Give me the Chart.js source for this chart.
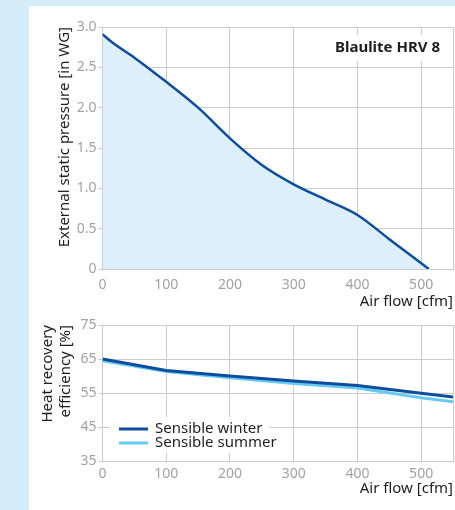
<!DOCTYPE html>
<html>
<head>
<meta charset="utf-8">
<script src="https://cdn.jsdelivr.net/npm/chart.js@4.4.1/dist/chart.umd.min.js"></script>
<style>
  html, body { margin: 0; padding: 0; background: #d5ecf9; }
  #panel { position: absolute; left: 29px; top: 6px; width: 426px; height: 504px; background: #fff; }
  #topWrap { position: absolute; left: 0; top: 0; width: 426px; height: 304px; }
  #botWrap { position: absolute; left: 0; top: 304px; width: 426px; height: 200px; }
</style>
</head>
<body>
<div id="panel">
  <div id="topWrap"><canvas id="pressure"></canvas></div>
  <div id="botWrap"><canvas id="efficiency"></canvas></div>
</div>
<script>
// данные
const flowPressure = [0, 15, 50, 100, 150, 200, 250, 300, 350, 400, 450, 512];
const pressure = [2.91, 2.81, 2.62, 2.32, 2.0, 1.62, 1.29, 1.05, 0.86, 0.67, 0.37, 0];

const flowEff = [0, 100, 200, 300, 400, 500, 550];
const winterEff = [65.0, 61.6, 60.0, 58.5, 57.2, 54.9, 53.8];
const summerEff = [64.5, 61.3, 59.5, 57.8, 56.5, 53.6, 52.4];

// деления оси X (550 — край без подписи)
const flowTicks = [0, 100, 200, 300, 400, 500, 550];

const seriesNames = ['Sensible winter', 'Sensible summer'];
const modelName = 'Blaulite HRV 8';
const xTitle = 'Air flow [cfm]';
const pressureTitle = 'External static pressure [in WG]';
const effTitle = ['Heat recovery', 'efficiency [%]'];

const FONT = '"Noto Sans", "Open Sans", sans-serif';
const GRID = '#cbcbcb';
const TICK = '#a2a2a2';
const TEXT = '#1e1e1e';

const toPoints = (xs, ys) => xs.map((x, i) => ({ x, y: ys[i] }));

// Плагин: название модели в правом верхнем углу
const modelLabel = {
  id: 'modelLabel',
  beforeDatasetsDraw(chart) {
    const { ctx } = chart;
    ctx.save();
    ctx.font = 'bold 15px ' + FONT;
    const w = ctx.measureText(modelName).width;
    const right = 411, cy = 42;
    ctx.fillStyle = '#fff';
    ctx.fillRect(right - w - 6, cy - 13, w + 12, 26);
    ctx.fillStyle = TEXT;
    ctx.textAlign = 'right';
    ctx.textBaseline = 'middle';
    ctx.fillText(modelName, right, cy);
    ctx.restore();
  },
};

// Плагин: легенда внутри области графика
const innerLegend = {
  id: 'innerLegend',
  beforeDatasetsDraw(chart) {
    const { ctx } = chart;
    ctx.save();
    ctx.fillStyle = '#fff';
    ctx.fillRect(81, 107, 160, 36);
    ctx.font = '15px ' + FONT;
    ctx.textBaseline = 'middle';
    chart.data.datasets.forEach((ds, i) => {
      const y = 119 + i * 14;
      ctx.strokeStyle = ds.borderColor;
      ctx.lineWidth = 3;
      ctx.beginPath();
      ctx.moveTo(90, y);
      ctx.lineTo(119, y);
      ctx.stroke();
      ctx.fillStyle = TEXT;
      ctx.fillText(ds.label, 126, y);
    });
    ctx.restore();
  },
};

function xScale(tickPad, axisHeight, titlePad) {
  return {
    type: 'linear',
    min: 0,
    max: 550,
    grid: { color: GRID, drawTicks: false },
    border: { color: GRID },
    afterBuildTicks(s) { s.ticks = flowTicks.map((v) => ({ value: v })); },
    ticks: {
      color: TICK,
      padding: tickPad,
      font: { family: FONT, size: 14 },
      maxRotation: 0,
      autoSkip: false,
      callback: (v) => (v % 100 === 0 ? String(v) : ''),
    },
    title: {
      display: true,
      text: xTitle,
      align: 'end',
      color: TEXT,
      font: { family: FONT, size: 15, lineHeight: 1.15 },
      padding: { top: 0, bottom: titlePad },
    },
    afterFit(s) {
      s.height = axisHeight;
      s.paddingLeft = 0;
      s.paddingRight = 0;
    },
  };
}

new Chart(document.getElementById('pressure'), {
  type: 'scatter',
  data: {
    datasets: [{
      data: toPoints(flowPressure, pressure),
      showLine: true,
      borderColor: '#0c4d9d',
      borderWidth: 2.5,
      backgroundColor: '#ddeffb',
      fill: 'origin',
      pointRadius: 0,
      cubicInterpolationMode: 'monotone',
    }],
  },
  options: {
    responsive: true,
    maintainAspectRatio: false,
    animation: false,
    layout: { padding: { top: 21, right: 2, left: 0, bottom: 0 } },
    plugins: { legend: { display: false }, tooltip: { enabled: false } },
    scales: {
      x: xScale(8, 41, 0),
      y: {
        min: 0,
        max: 3,
        grid: { color: GRID, tickLength: 4 },
        border: { color: GRID },
        ticks: {
          stepSize: 0.5,
          color: TICK,
          padding: 2,
          font: { family: FONT, size: 14 },
          callback: (v) => (v === 0 ? '0' : v.toFixed(1)),
        },
        title: {
          display: true,
          text: pressureTitle,
          align: 'end',
          color: TEXT,
          font: { family: FONT, size: 15, lineHeight: 1.15 },
          padding: { top: 27.4, bottom: 0 },
        },
        afterFit(s) { s.width = 73.5; },
      },
    },
  },
  plugins: [modelLabel],
});

new Chart(document.getElementById('efficiency'), {
  type: 'scatter',
  data: {
    datasets: [
      {
        label: seriesNames[0],
        data: toPoints(flowEff, winterEff),
        showLine: true,
        borderColor: '#0c4d9d',
        borderWidth: 3,
        pointRadius: 0,
        tension: 0,
        order: 0,
      },
      {
        label: seriesNames[1],
        data: toPoints(flowEff, summerEff),
        showLine: true,
        borderColor: '#66caf3',
        borderWidth: 3,
        pointRadius: 0,
        tension: 0,
        order: 1,
      },
    ],
  },
  options: {
    responsive: true,
    maintainAspectRatio: false,
    animation: false,
    layout: { padding: { top: 15, right: 2, left: 0, bottom: 0 } },
    plugins: { legend: { display: false }, tooltip: { enabled: false } },
    scales: {
      x: xScale(5, 49, 12.4),
      y: {
        min: 35,
        max: 75,
        grid: { color: GRID, tickLength: 4 },
        border: { color: GRID },
        ticks: {
          stepSize: 10,
          color: TICK,
          padding: 2,
          font: { family: FONT, size: 14 },
        },
        title: {
          display: true,
          text: effTitle,
          align: 'end',
          color: TEXT,
          font: { family: FONT, size: 15, lineHeight: 1.15 },
          padding: { top: 10.4, bottom: 0 },
        },
        afterFit(s) { s.width = 73.5; },
      },
    },
  },
  plugins: [innerLegend],
});
</script>
</body>
</html>
